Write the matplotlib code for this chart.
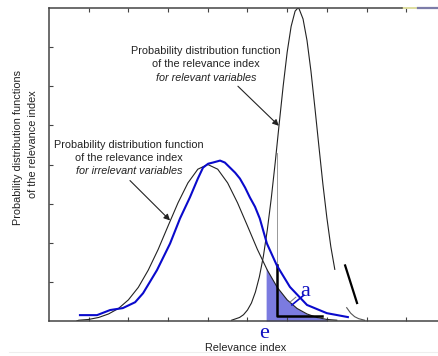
import matplotlib.pyplot as plt
from matplotlib.lines import Line2D

# irrelevant variables: theoretical curve (thin black)
irr_x = [0.7, 0.75, 1.0, 1.25, 1.5, 1.75, 2.0, 2.25, 2.5, 2.75, 3.0, 3.25, 3.5, 3.75,
         4.0, 4.25, 4.5, 4.75, 5.0, 5.25, 5.5, 5.75, 6.0, 6.25, 6.5, 6.75, 7.0, 7.25]
irr_y = [0.0, 0.02, 0.04, 0.09, 0.18, 0.32, 0.54, 0.86, 1.30, 1.83, 2.43, 3.02, 3.53, 3.88,
         4.0, 3.88, 3.53, 3.02, 2.43, 1.83, 1.30, 0.86, 0.54, 0.32, 0.18, 0.09, 0.04, 0.02]

# relevant variables: theoretical curve (thin black), split where it fades out
rel_x = [4.6, 4.8, 4.9, 5.0, 5.1, 5.2, 5.3, 5.4, 5.5, 5.6, 5.7, 5.8, 5.9, 6.0, 6.1,
         6.2, 6.27, 6.3, 6.4, 6.5, 6.6, 6.7, 6.8, 6.9, 7.0, 7.1, 7.2]
rel_y = [0.02, 0.09, 0.16, 0.28, 0.46, 0.74, 1.13, 1.65, 2.33, 3.14, 4.06, 5.05, 6.01, 6.87, 7.53,
         7.92, 8.0, 7.98, 7.72, 7.17, 6.38, 5.44, 4.46, 3.50, 2.64, 1.90, 1.32]
rel_tail_x = [7.5, 7.6, 7.7, 7.8, 7.95]
rel_tail_y = [0.34, 0.20, 0.11, 0.06, 0.02]

# irrelevant variables: observed distribution (thick blue)
obs_x = [0.78, 1.21, 1.54, 1.86, 2.17, 2.37, 2.72, 3.05, 3.30, 3.55, 3.75, 3.88, 4.01,
         4.13, 4.31, 4.43, 4.56, 4.69, 4.81, 4.94, 5.06, 5.19, 5.31, 5.49, 5.74, 6.07,
         6.50, 7.00, 7.53]
obs_y = [0.15, 0.15, 0.28, 0.33, 0.48, 0.71, 1.30, 1.98, 2.62, 3.16, 3.64, 3.92, 4.02,
         4.05, 4.10, 4.05, 3.92, 3.79, 3.64, 3.41, 3.16, 2.92, 2.62, 1.98, 1.42, 0.87,
         0.41, 0.20, 0.10]

# shaded tail beyond the threshold e
e_value = 5.47
fill_x = [5.47, 5.5, 5.75, 6.0, 6.25, 6.5, 6.75, 7.0]
fill_y = [1.36, 1.30, 0.86, 0.54, 0.32, 0.18, 0.09, 0.04]

# thick black corner mark and odd stroke on the right
corner_x = [5.74, 5.74, 6.88]
corner_y = [1.42, 0.13, 0.13]
stroke_x = [7.46, 7.76]
stroke_y = [1.42, 0.46]

fig = plt.figure(figsize=(4.38, 3.56), dpi=100)
ax = fig.add_axes([49 / 438, 35 / 356, 389 / 438, 313 / 356])
ax.set_xlim(0, 9.8)
ax.set_ylim(0, 8)

ax.fill_between(fill_x, fill_y, 0, color='#7b7be0', lw=0, zorder=1)
ax.plot(irr_x, irr_y, color='#222222', lw=0.8, zorder=2)
ax.plot(rel_x, rel_y, color='#222222', lw=0.8, zorder=2)
ax.plot(rel_tail_x, rel_tail_y, color='#555555', lw=0.8, zorder=2)
ax.plot([5.74, 5.74], [4.3, 1.42], color='#888888', lw=0.6, zorder=2)
ax.plot(corner_x, corner_y, color='black', lw=1.8, zorder=3)
ax.plot(stroke_x, stroke_y, color='black', lw=1.6, zorder=3)
ax.plot([6.07, 6.22], [0.48, 0.61], color='#777777', lw=0.7, zorder=3)
ax.plot(obs_x, obs_y, color='#0a0acc', lw=1.5, zorder=4, solid_joinstyle='round')
ax.plot([6.12, 6.42], [0.41, 0.66], color='#0a0acc', lw=1.2, zorder=4)

ax.text(6.45, 0.76, 'a', color='#1010c0', fontsize=16, family='Liberation Serif',
        ha='center', va='center', zorder=5)
ax.text(e_value - 0.05, -0.33, 'e', color='#1010c0', fontsize=16, family='Liberation Serif',
        ha='center', va='center', clip_on=False)

txt = dict(fontsize=7.8, family='Liberation Sans', color='#222222', ha='center', va='center')
ax.text(3.95, 6.90, 'Probability distribution function', **txt)
ax.text(3.95, 6.56, 'of the relevance index', **txt)
ax.text(3.95, 6.21, 'for relevant variables', style='italic', **txt)
ax.text(2.02, 4.50, 'Probability distribution function', **txt)
ax.text(2.02, 4.17, 'of the relevance index', **txt)
ax.text(2.02, 3.84, 'for irrelevant variables', style='italic', **txt)

arrow = dict(arrowstyle='-|>', color='#222222', lw=0.8, mutation_scale=9, shrinkA=0, shrinkB=0)
ax.annotate('', xy=(5.79, 4.99), xytext=(4.76, 6.0), arrowprops=arrow)
ax.annotate('', xy=(3.05, 2.57), xytext=(2.04, 3.59), arrowprops=arrow)

# frame: no right edge, top edge stops short
ax.spines['right'].set_visible(False)
ax.spines['top'].set_bounds(0, 8.89)
for s in ['left', 'top', 'bottom']:
    ax.spines[s].set_color('#444444')
    ax.spines[s].set_linewidth(1.1)
ax.set_xticks(range(1, 10))
ax.set_yticks(range(1, 8))
ax.tick_params(direction='in', length=3, width=0.8, color='#444444',
               top=True, labelbottom=False, labelleft=False)
ax.plot([8.89, 9.29], [8, 8], color='#d8d890', lw=1.2, clip_on=False)
ax.plot([9.29, 9.77], [8, 8], color='#7c7ca8', lw=1.6, clip_on=False)

lab = dict(fontsize=7.8, family='Liberation Sans', color='#222222', ha='center', va='center')
fig.text(246 / 438, 1 - 348 / 356, 'Relevance index', **lab)
fig.text(18 / 438, 1 - 147 / 356, 'Probability distribution functions', rotation=90, **lab)
fig.text(33 / 438, 1 - 144 / 356, 'of the relevance index', rotation=90, **lab)
fig.add_artist(Line2D([0.02, 1.0], [1 - 352 / 356, 1 - 352 / 356], color='#eeeeee', lw=0.8))

fig.savefig('out.png', dpi=100)
